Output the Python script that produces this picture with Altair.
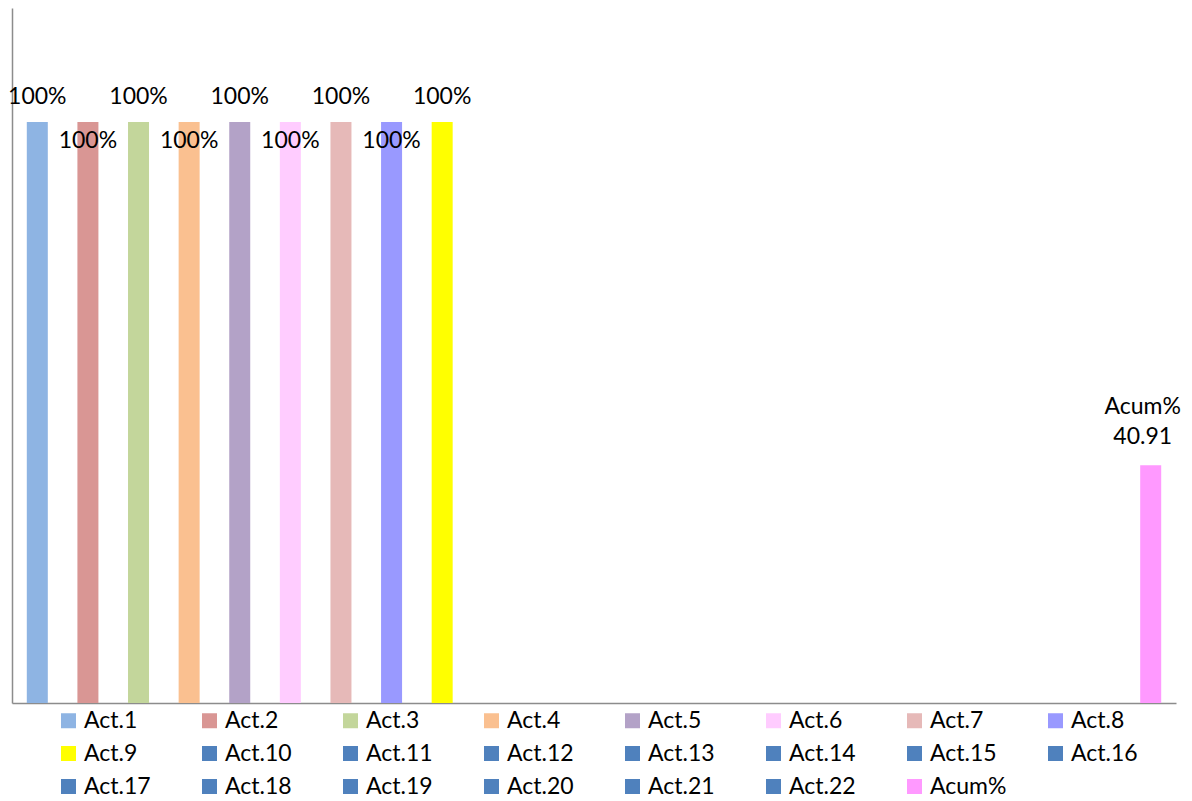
import altair as alt
import pandas as pd

categories = ["Act.1", "Act.2", "Act.3", "Act.4", "Act.5", "Act.6", "Act.7", "Act.8",
              "Act.9", "Act.10", "Act.11", "Act.12", "Act.13", "Act.14", "Act.15", "Act.16",
              "Act.17", "Act.18", "Act.19", "Act.20", "Act.21", "Act.22", "Acum%"]
values = [100, 100, 100, 100, 100, 100, 100, 100, 100,
          0, 0, 0, 0, 0, 0, 0, 0, 0, 0, 0, 0, 0, 40.91]
colors = ["#8EB4E3", "#D99694", "#C3D69B", "#FAC090", "#B3A2C7", "#FFCCFF", "#E6B9B8",
          "#9999FF", "#FFFF00", "#4F81BD", "#4F81BD", "#4F81BD", "#4F81BD", "#4F81BD",
          "#4F81BD", "#4F81BD", "#4F81BD", "#4F81BD", "#4F81BD", "#4F81BD", "#4F81BD",
          "#4F81BD", "#FF99FF"]

df = pd.DataFrame({"cat": categories, "val": values, "idx": list(range(len(categories)))})
df["lbl"] = [f"{v:g}%" for v in values]
df["acum"] = [f"{c}\n{v:g}" for c, v in zip(categories, values)]

FONT = "Lato"
FS = 23
AX = "#8C8C8C"

xenc = alt.X("cat:N", sort=categories,
             scale=alt.Scale(paddingInner=0.585, paddingOuter=0.2925),
             axis=alt.Axis(title=None, labels=False, ticks=False, domainColor=AX, domainWidth=1.5))
yenc = alt.Y("val:Q", scale=alt.Scale(domain=[0, 119.6], nice=False),
             axis=alt.Axis(title=None, labels=False, ticks=False, grid=False,
                           domainColor=AX, domainWidth=1.5))

base = alt.Chart(df).encode(x=xenc, y=yenc)

bars = base.mark_bar().encode(
    color=alt.Color("cat:N", sort=categories,
                    scale=alt.Scale(domain=categories, range=colors),
                    legend=alt.Legend(title=None, orient="none", legendX=45, legendY=701,
                                      direction="horizontal",
                                      columns=8, symbolType="square", symbolSize=225,
                                      symbolStrokeWidth=0, labelFontSize=FS, labelFont=FONT,
                                      labelColor="#000000", labelOffset=4, gridAlign="all",
                                      columnPadding=37, rowPadding=9))
)

upper = base.mark_text(baseline="alphabetic", dy=-18, fontSize=FS, font=FONT, color="#000000").encode(
    text="lbl:N").transform_filter("datum.idx < 22 && datum.val > 0 && datum.idx % 2 == 0")

lower = base.mark_text(baseline="alphabetic", dy=26, fontSize=FS, font=FONT, color="#000000").encode(
    text="lbl:N").transform_filter("datum.idx < 22 && datum.val > 0 && datum.idx % 2 == 1")

acum = base.mark_text(baseline="alphabetic", dy=-51, dx=-8, fontSize=FS, font=FONT,
                      color="#000000", lineBreak="\n", lineHeight=30).encode(
    text="acum:N").transform_filter("datum.idx == 22")

chart = alt.layer(bars, upper, lower, acum).properties(
    width=1164, height=695,
    padding={"left": 4, "top": 0, "right": 8, "bottom": 96},
    autosize=alt.AutoSizeParams(type="none"),
).configure_view(stroke=None)

chart.save("out.html", embed_options={"renderer": "svg", "actions": False})
